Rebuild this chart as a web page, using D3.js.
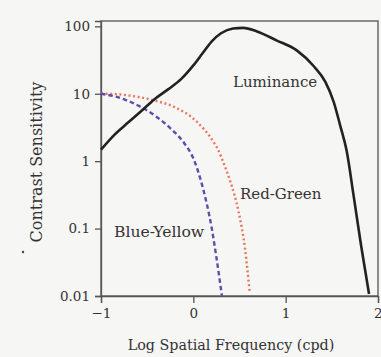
<!DOCTYPE html>
<html>
<head>
<meta charset="utf-8">
<script src="https://cdn.jsdelivr.net/npm/d3@7"></script>
<style>
  body { margin: 0; background: #f6f6f4; }
</style>
</head>
<body>
<div id="canvas"></div>
<script>
// Log spatial frequency (cpd) and contrast sensitivity for each channel.
const lumX = [-1, -0.85, -0.7, -0.56, -0.42, -0.27, -0.13, 0.0, 0.1, 0.2, 0.3, 0.43, 0.54, 0.69, 0.9, 1.12, 1.3, 1.43, 1.52, 1.59, 1.661, 1.735, 1.816, 1.903];
const lumY = [1.48, 2.5, 3.8, 5.6, 8.3, 11.7, 16.6, 26.3, 39.8, 60, 79, 93, 95, 84, 62, 44, 26, 15, 7.6, 3.4, 1.41, 0.313, 0.057, 0.0107];

const byX = [-1, -0.85, -0.7, -0.55, -0.4, -0.25, -0.1, 0.0, 0.1, 0.2, 0.25, 0.31];
const byY = [10, 9.12, 7.76, 6.17, 4.57, 3.09, 1.86, 1.1, 0.417, 0.1, 0.0372, 0.01];

const rgX = [-1, -0.85, -0.63, -0.42, -0.2, 0.02, 0.22, 0.27, 0.33, 0.4, 0.49, 0.56, 0.61];
const rgY = [10, 9.89, 9.12, 7.94, 6.31, 4.05, 1.91, 1.46, 0.92, 0.5, 0.178, 0.05, 0.0115];

// Axis ticks.
const xTicks = [-1, 0, 1, 2];
const yTicks = [0.01, 0.1, 1, 10, 100];

const w = 381, h = 357;
const margin = { left: 101, right: 3, top: 21, bottom: 61 };

const svg = d3.select("#canvas")
    .append("svg")
    .attr("width", w)
    .attr("height", h);

const xScale = d3.scaleLinear()
    .domain([-1, 2])
    .range([margin.left, w - margin.right]);

const yScale = d3.scaleLog()
    .domain([0.01, 120])
    .range([h - margin.bottom, margin.top]);

const serif = "'DejaVu Serif', serif";
const axisColor = "#555";

// Frame around the plot.
svg.append("rect")
    .attr("x", xScale(-1))
    .attr("y", yScale(120))
    .attr("width", xScale(2) - xScale(-1))
    .attr("height", yScale(0.01) - yScale(120))
    .attr("fill", "none")
    .attr("stroke", axisColor)
    .attr("stroke-width", 1.3);

const xAxis = svg.append("g")
    .attr("transform", `translate(0,${yScale(0.01)})`)
    .call(d3.axisBottom(xScale).tickValues(xTicks).tickSize(7).tickPadding(5)
        .tickFormat(d => d < 0 ? "\u2212" + Math.abs(d) : d));

const yAxis = svg.append("g")
    .attr("transform", `translate(${xScale(-1)},0)`)
    .call(d3.axisLeft(yScale).tickValues(yTicks).tickSize(6).tickPadding(5)
        .tickFormat(d => d));

[xAxis, yAxis].forEach(g => {
    g.select(".domain").attr("stroke", axisColor).attr("stroke-width", 1.3);
    g.selectAll(".tick line").attr("stroke", axisColor).attr("stroke-width", 1.3);
    g.selectAll(".tick text")
        .attr("fill", "#333")
        .attr("font-family", serif)
        .attr("font-size", 13.5);
});

// The "2" sits at the right edge of the picture; keep it inside.
xAxis.selectAll(".tick text")
    .filter(d => d === 2)
    .attr("text-anchor", "end")
    .attr("dx", 4);

const line = d3.line()
    .x(d => xScale(d[0]))
    .y(d => yScale(d[1]))
    .curve(d3.curveMonotoneX);

svg.append("path")
    .datum(d3.zip(rgX, rgY))
    .attr("d", line)
    .attr("fill", "none")
    .attr("stroke", "#e9765e")
    .attr("stroke-width", 2.4)
    .attr("stroke-dasharray", "2,2.6");

svg.append("path")
    .datum(d3.zip(byX, byY))
    .attr("d", line)
    .attr("fill", "none")
    .attr("stroke", "#5a4fae")
    .attr("stroke-width", 2.4)
    .attr("stroke-dasharray", "4.5,3");

svg.append("path")
    .datum(d3.zip(lumX, lumY))
    .attr("d", line)
    .attr("fill", "none")
    .attr("stroke", "#222")
    .attr("stroke-width", 2.6);

// Curve labels.
const labels = [
    { text: "Luminance", x: 233, y: 87, size: 15 },
    { text: "Red-Green", x: 240, y: 199, size: 15 },
    { text: "Blue-Yellow", x: 114, y: 237, size: 15.6 }
];
svg.selectAll("text.label")
    .data(labels)
    .enter()
    .append("text")
    .attr("class", "label")
    .text(d => d.text)
    .attr("x", d => d.x)
    .attr("y", d => d.y)
    .attr("fill", "#333")
    .attr("font-family", serif)
    .attr("font-size", d => d.size);

// Axis titles.
svg.append("text")
    .text("Log Spatial Frequency (cpd)")
    .attr("x", 231)
    .attr("y", 350)
    .attr("text-anchor", "middle")
    .attr("fill", "#333")
    .attr("font-family", serif)
    .attr("font-size", 14.3);

svg.append("text")
    .text("Contrast Sensitivity")
    .attr("transform", "translate(42,162) rotate(-90)")
    .attr("text-anchor", "middle")
    .attr("fill", "#333")
    .attr("font-family", serif)
    .attr("font-size", 16);

// Small stray mark left of the title.
svg.append("circle")
    .attr("cx", 23)
    .attr("cy", 252)
    .attr("r", 1.2)
    .attr("fill", "#444");
</script>
</body>
</html>
